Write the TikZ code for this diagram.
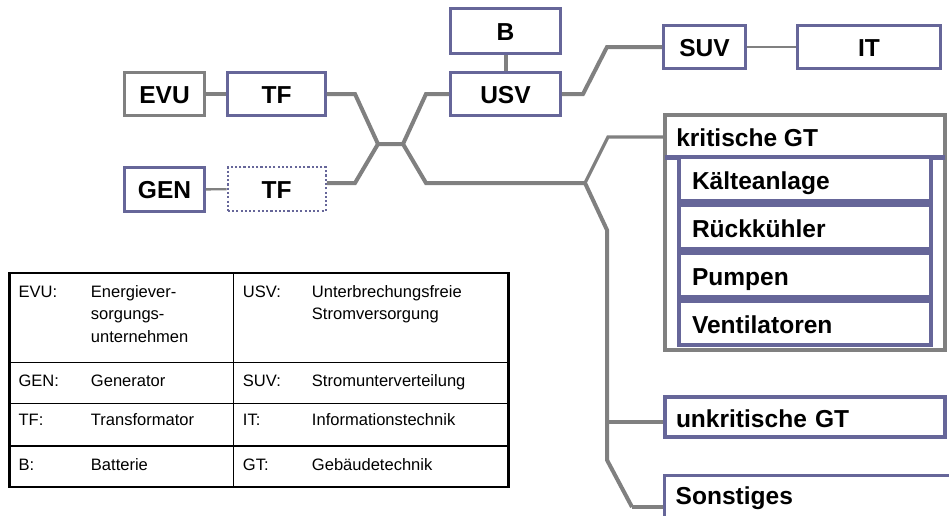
\documentclass[tikz,border=0pt]{standalone}
\usepackage{fontspec}
\setmainfont{Liberation Sans}
\definecolor{frame}{RGB}{102,102,153}
\definecolor{wirecol}{RGB}{128,128,128}
\begin{document}
\begin{tikzpicture}[x=0.75pt,y=-0.75pt,
  boxfont/.style={font=\bfseries\fontsize{18.4}{22}\selectfont},
  sz/.style 2 args={minimum width={#1*0.75pt},minimum height={#2*0.75pt}},
  unit/.style={draw=frame,line width=2.6pt,fill=white,boxfont,inner sep=0pt,
    text height=13.5pt,text depth=0pt},
  grayunit/.style={unit,draw=wirecol},
  spare/.style={unit,line width=1.6pt,dash pattern=on 1.6pt off 1.6pt},
  gtitem/.style={draw=frame,line width=3pt,fill=white,boxfont,
    inner xsep={13*0.75pt},inner ysep=0pt,text width={226*0.75pt},align=left,
    text height=16pt,text depth=0pt,minimum height={44*0.75pt}},
  listbox/.style={draw=frame,line width=2.6pt,fill=white,boxfont,
    inner xsep={11*0.75pt},inner ysep=0pt,align=left,
    text height=16pt,text depth=0pt},
  group/.style={draw=wirecol,line width=3pt,fill=white,inner sep=0pt},
  link/.style={draw=wirecol,line width=3pt},
  branch/.style={link,line width=2.4pt},
  thinlink/.style={link,line width=1.8pt},
  tabtext/.style={anchor=base west,inner sep=0pt,font=\fontsize{12.4}{15}\selectfont},
  header/.style={anchor=base west,inner sep=0pt,boxfont}
]
\clip (0,0) rectangle (949,515);
\fill[white] (0,0) rectangle (949,515);

% supply side
\node[grayunit,sz={79.5}{42.5}] (evu) at (164.5,94) {EVU};
\node[unit,sz={97.5}{42.5}] (tf1) at (276.5,94) {TF};
\node[unit,sz={79.5}{43.5}] (gen) at (164.5,189.5) {GEN};
\node[spare,sz={98}{43.7}] (tf2) at (276.7,189) {TF};

% UPS branch
\node[unit,sz={109.5}{44.5}] (b) at (505.5,31) {B};
\node[unit,sz={109.5}{42.5}] (usv) at (505.5,94) {USV};
\node[unit,sz={81.5}{42.5}] (suv) at (704.5,47) {SUV};
\node[unit,sz={142.5}{42.5}] (it) at (869,47) {IT};

% building services
\node[group,sz={280}{235}] (krit) at (805,232.5) {};
\node[header] (kritl) at (676,146) {kritische GT};
\draw[frame,line width=3.4pt] (665,157.5) -- (945,157.5);
\node[gtitem] (kaelte) at (805,179) {Kälteanlage};
\node[gtitem] (rueck) at (805,227) {Rückkühler};
\node[gtitem] (pump) at (805,275) {Pumpen};
\node[gtitem] (vent) at (805,323) {Ventilatoren};
\node[listbox,text width={258*0.75pt},minimum height={40*0.75pt}] (unkrit) at (805,417) {unkritische GT};
\node[listbox,anchor=north west,text width={290*0.75pt},inner ysep={7.7*0.75pt},
  text depth={30*0.75pt}] (sonst) at (663,474) {Sonstiges};

% wiring points
\coordinate (a1) at (355,94);
\coordinate (hubL) at (378,144);
\coordinate (hubR) at (403,144);
\coordinate (a2) at (426,94);
\coordinate (b1) at (355,183);
\coordinate (b2) at (426,183);
\coordinate (j2) at (585,183);
\coordinate (c1) at (583,94);
\coordinate (c2) at (607,47);
\coordinate (k1) at (608,137);
\coordinate (t1) at (607,230);
\coordinate (t2) at (607,460);
\coordinate (s1) at (632,507);
\coordinate (u1) at (607,422);

% connections
\draw[link] (evu) -- (tf1);
\draw[thinlink] (gen) -- (tf2);
\draw[link] (tf1.east) -- (a1) -- (hubL) -- (hubR) -- (a2) -- (usv.west);
\draw[link] (tf2.east |- b1) -- (b1) -- (hubL);
\draw[link] (hubR) -- (b2) -- (j2);
\draw[link] (b) -- (usv);
\draw[link] (usv.east) -- (c1) -- (c2) -- (suv.west);
\draw[thinlink] (suv) -- (it);
\draw[branch] (j2) -- (k1) -- (krit.west |- k1);
\draw[link] (j2) -- (t1) -- (t2) -- (s1);
\draw[branch] (s1) -- (sonst.west |- s1);
\draw[branch] (u1) -- (unkrit.west |- u1);

% legend table
\draw[line width=1pt] (233.3,273) -- (233.3,487)
  (9.7,362.7) -- (508.6,362.7)
  (9.7,403.3) -- (508.6,403.3)
  (9.7,446) -- (508.6,446);
\draw[line width=2.1pt] (9.7,273) rectangle (508.6,487);

\node[tabtext] (l1a) at (18.3,297.3) {EVU:};
\node[tabtext] (l1b) at (90.7,297.3) {Energiever-};
\node[tabtext] (l1c) at (90.7,319.8) {sorgungs-};
\node[tabtext] (l1d) at (90.7,342.3) {unternehmen};
\node[tabtext] (r1a) at (242.7,297.3) {USV:};
\node[tabtext] (r1b) at (311.7,297.3) {Unterbrechungsfreie};
\node[tabtext] (r1c) at (311.7,319.8) {Stromversorgung};

\node[tabtext] (l2a) at (18.3,386) {GEN:};
\node[tabtext] (l2b) at (90.7,386) {Generator};
\node[tabtext] (r2a) at (242.7,386) {SUV:};
\node[tabtext] (r2b) at (311.7,386) {Stromunterverteilung};

\node[tabtext] (l3a) at (18.3,425.7) {TF:};
\node[tabtext] (l3b) at (90.7,425.7) {Transformator};
\node[tabtext] (r3a) at (242.7,425.7) {IT:};
\node[tabtext] (r3b) at (311.7,425.7) {Informationstechnik};

\node[tabtext] (l4a) at (18.3,470.7) {B:};
\node[tabtext] (l4b) at (90.7,470.7) {Batterie};
\node[tabtext] (r4a) at (242.7,470.7) {GT:};
\node[tabtext] (r4b) at (311.7,470.7) {Gebäudetechnik};
\end{tikzpicture}
\end{document}
